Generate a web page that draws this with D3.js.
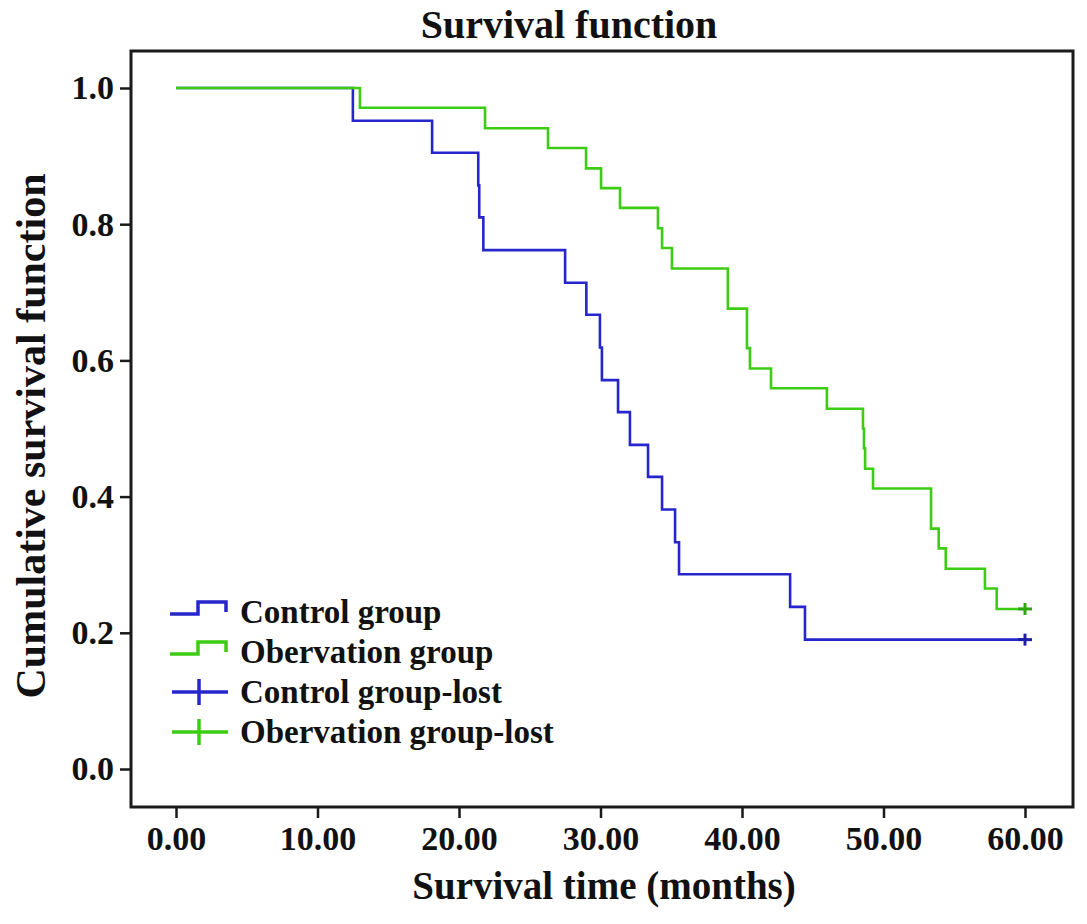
<!DOCTYPE html>
<html>
<head>
<meta charset="utf-8">
<script src="https://cdn.jsdelivr.net/npm/d3@7/dist/d3.min.js"></script>
<style>
  html, body { margin: 0; padding: 0; background: #fff; }
  svg { display: block; }
  text { font-family: "Liberation Serif", "Times New Roman", serif; font-weight: bold; fill: #111; }
</style>
</head>
<body>
<svg id="chart" width="1087" height="924"></svg>
<script>
// ---- data ----
const controlTimes = [0, 12.5, 18.1, 21.36, 21.43, 21.72, 27.5, 29.0, 29.96, 30.1, 31.24, 32.08, 33.36, 34.35, 35.27, 35.55, 43.4, 44.45, 60];
const controlSurv  = [1.0, 0.952, 0.905, 0.857, 0.810, 0.762, 0.714, 0.667, 0.619, 0.571, 0.524, 0.476, 0.429, 0.381, 0.333, 0.286, 0.238, 0.190, 0.190];

const obsTimes = [0, 13.0, 21.84, 26.29, 28.98, 30.04, 31.38, 34.06, 34.35, 35.05, 39.0, 40.35, 40.56, 42.05, 46.0, 48.55, 48.62, 48.7, 49.26, 53.36, 53.9, 54.4, 57.17, 58.0, 60];
const obsSurv  = [1.0, 0.971, 0.941, 0.912, 0.882, 0.853, 0.824, 0.794, 0.765, 0.735, 0.676, 0.618, 0.588, 0.559, 0.529, 0.500, 0.471, 0.441, 0.412, 0.353, 0.324, 0.294, 0.265, 0.235, 0.235];

const controlCensorTimes = [60];
const controlCensorSurv  = [0.190];
const obsCensorTimes = [60];
const obsCensorSurv  = [0.235];

const xTicks = [0, 10, 20, 30, 40, 50, 60];
const yTicks = [0, 0.2, 0.4, 0.6, 0.8, 1.0];

const legendLabels = ["Control group", "Obervation group", "Control group-lost", "Obervation group-lost"];
const titleText = "Survival function";
const xLabel = "Survival time (months)";
const yLabel = "Cumulative survival function";

// ---- drawing ----
const BLUE = "#2626cc", GREEN = "#3ccc14";
const svg = d3.select("#chart");
const frame = {left: 131, top: 51, right: 1073, bottom: 807};

const x = d3.scaleLinear().domain([0, 60]).range([176, 1025]);
const y = d3.scaleLinear().domain([0, 1]).range([769, 88]);

// frame
svg.append("rect")
  .attr("x", frame.left).attr("y", frame.top)
  .attr("width", frame.right - frame.left).attr("height", frame.bottom - frame.top)
  .attr("fill", "none").attr("stroke", "#1a1a1a").attr("stroke-width", 3);

// axes
const yAxis = svg.append("g").attr("transform", `translate(${frame.left},0)`)
  .call(d3.axisLeft(y).tickValues(yTicks).tickFormat(d3.format(".1f")).tickSize(11).tickPadding(6));
yAxis.select(".domain").remove();
yAxis.selectAll(".tick line").attr("stroke", "#1a1a1a").attr("stroke-width", 2.5);
yAxis.selectAll(".tick text").style("font-size", "34px").style("font-family", "Liberation Serif").style("font-weight", "bold").attr("fill", "#111");

const xAxis = svg.append("g").attr("transform", `translate(0,${frame.bottom})`)
  .call(d3.axisBottom(x).tickValues(xTicks).tickFormat(d3.format(".2f")).tickSize(11).tickPadding(8));
xAxis.select(".domain").remove();
xAxis.selectAll(".tick line").attr("stroke", "#1a1a1a").attr("stroke-width", 2.5);
xAxis.selectAll(".tick text").style("font-size", "34px").style("font-family", "Liberation Serif").style("font-weight", "bold").attr("fill", "#111");

// curves
const line = d3.line().x(d => x(d[0])).y(d => y(d[1])).curve(d3.curveStepAfter);
svg.append("path").datum(d3.zip(controlTimes, controlSurv))
  .attr("d", line).attr("fill", "none").attr("stroke", BLUE).attr("stroke-width", 2.6);
svg.append("path").datum(d3.zip(obsTimes, obsSurv))
  .attr("d", line).attr("fill", "none").attr("stroke", GREEN).attr("stroke-width", 2.6);

// censor marks
function censor(times, surv, color) {
  const g = svg.append("g");
  d3.zip(times, surv).forEach(([t, s]) => {
    g.append("line").attr("x1", x(t) - 7).attr("x2", x(t) + 7).attr("y1", y(s)).attr("y2", y(s))
      .attr("stroke", color).attr("stroke-width", 3);
    g.append("line").attr("x1", x(t)).attr("x2", x(t)).attr("y1", y(s) - 6).attr("y2", y(s) + 6)
      .attr("stroke", color).attr("stroke-width", 3);
  });
}
censor(controlCensorTimes, controlCensorSurv, d3.color(BLUE).darker(0.6));
censor(obsCensorTimes, obsCensorSurv, d3.color(GREEN).darker(0.6));

// legend
const legendY = [612, 652, 692, 732];
const legendColors = [BLUE, GREEN, BLUE, GREEN];
legendLabels.forEach((lab, i) => {
  const cy = legendY[i];
  const c = legendColors[i];
  if (i < 2) {
    svg.append("path")
      .attr("d", `M170,${cy + 2} H198 V${cy - 10} H226 V${cy}`)
      .attr("fill", "none").attr("stroke", c).attr("stroke-width", 3.5);
  } else {
    svg.append("line").attr("x1", 172).attr("x2", 228).attr("y1", cy).attr("y2", cy)
      .attr("stroke", c).attr("stroke-width", 3.5);
    svg.append("line").attr("x1", 199).attr("x2", 199).attr("y1", cy - 13).attr("y2", cy + 13)
      .attr("stroke", c).attr("stroke-width", 3.5);
  }
  svg.append("text").attr("x", 240).attr("y", cy + 11)
    .style("font-size", "33px").text(lab);
});

// titles
svg.append("text").attr("x", 569).attr("y", 38).attr("text-anchor", "middle")
  .style("font-size", "40px").text(titleText);
svg.append("text").attr("x", 604).attr("y", 899).attr("text-anchor", "middle")
  .style("font-size", "39px").text(xLabel);
svg.append("text").attr("transform", "translate(45,436) rotate(-90)").attr("text-anchor", "middle")
  .style("font-size", "42px").text(yLabel);
</script>
</body>
</html>
